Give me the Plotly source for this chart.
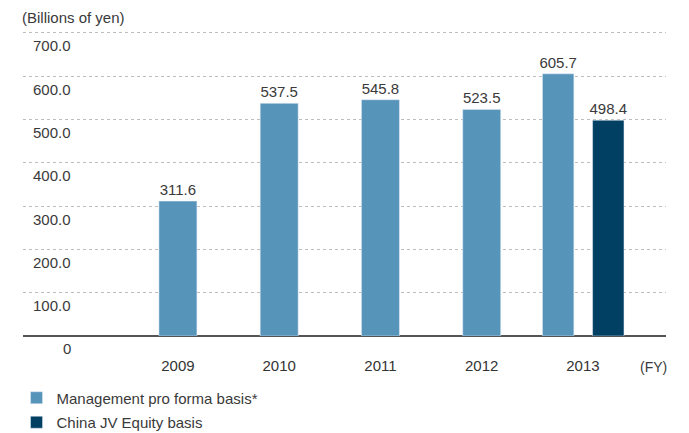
import plotly.graph_objects as go

years = ["2009", "2010", "2011", "2012", "2013"]
pro_forma = [311.6, 537.5, 545.8, 523.5, 605.7]
china_jv_year = ["2013"]
china_jv = [498.4]
y_ticks = [100, 200, 300, 400, 500, 600, 700]
y_tick_labels = ["100.0", "200.0", "300.0", "400.0", "500.0", "600.0", "700.0"]

LIGHT = "#5794BA"
DARK = "#013F63"
TXT = "#3a3a3a"
FONT = "Liberation Sans, Arial, sans-serif"

fig = go.Figure()
fig.add_trace(go.Bar(
    x=years, y=pro_forma, name="Management pro forma basis*",
    marker_color=LIGHT,
    width=[0.375, 0.375, 0.375, 0.375, 0.31],
    offset=[-0.1875, -0.1875, -0.1875, -0.1875, -0.40],
    text=[f"{v:.1f}" for v in pro_forma], textposition="outside", constraintext="none",
    textfont=dict(size=15, color=TXT, family=FONT), cliponaxis=False,
    legendgroup="a",
))
fig.add_trace(go.Bar(
    x=china_jv_year, y=china_jv, name="China JV Equity basis",
    marker_color=DARK, width=[0.31], offset=[0.095],
    text=[f"{v:.1f}" for v in china_jv], textposition="outside", constraintext="none",
    textfont=dict(size=15, color=TXT, family=FONT), cliponaxis=False,
    legendgroup="b",
))

ann = []
for v, lab in zip(y_ticks, y_tick_labels):
    ann.append(dict(x=0.0775, xref="paper", y=v, yref="y", text=lab, showarrow=False,
                    xanchor="right", yanchor="middle", yshift=-13,
                    font=dict(size=15, color=TXT, family=FONT)))
ann.append(dict(x=0.0775, xref="paper", y=0, yref="y", text="0", showarrow=False,
                xanchor="right", yanchor="middle", yshift=-12,
                font=dict(size=15, color=TXT, family=FONT)))
ann.append(dict(x=-0.004, xref="paper", y=1, yref="paper", text="(Billions of yen)", showarrow=False,
                xanchor="left", yanchor="middle", yshift=3,
                font=dict(size=15, color=TXT, family=FONT)))
ann.append(dict(x=0.98, xref="paper", y=0, yref="paper", text="(FY)", showarrow=False,
                xanchor="center", yanchor="middle", yshift=-31,
                font=dict(size=14, color=TXT, family=FONT)))

fig.update_layout(
    width=689, height=433,
    margin=dict(l=23, r=23, t=20, b=97, autoexpand=False),
    paper_bgcolor="white", plot_bgcolor="white",
    barmode="overlay",
    showlegend=True,
    legend=dict(x=0.024, y=0.119, xref="container", yref="container",
                xanchor="left", yanchor="top",
                font=dict(size=15, color=TXT, family=FONT),
                traceorder="grouped", tracegroupgap=2, bgcolor="rgba(0,0,0,0)"),
    xaxis=dict(range=[-1.53, 4.82], showgrid=False, showline=False, zeroline=False,
               ticks="", tickfont=dict(size=15, color="#333333", family=FONT), ticklabelstandoff=19),
    yaxis=dict(range=[0, 730], tickvals=y_ticks, showticklabels=False, showgrid=True,
               gridcolor="#bdbdbd", griddash="dot", gridwidth=1,
               zeroline=True, zerolinecolor="#555555", zerolinewidth=1.5, showline=False),
    annotations=ann,
)

fig.write_html("out.html", config={"displayModeBar": False},
               post_script="document.body.style.margin='0';")
